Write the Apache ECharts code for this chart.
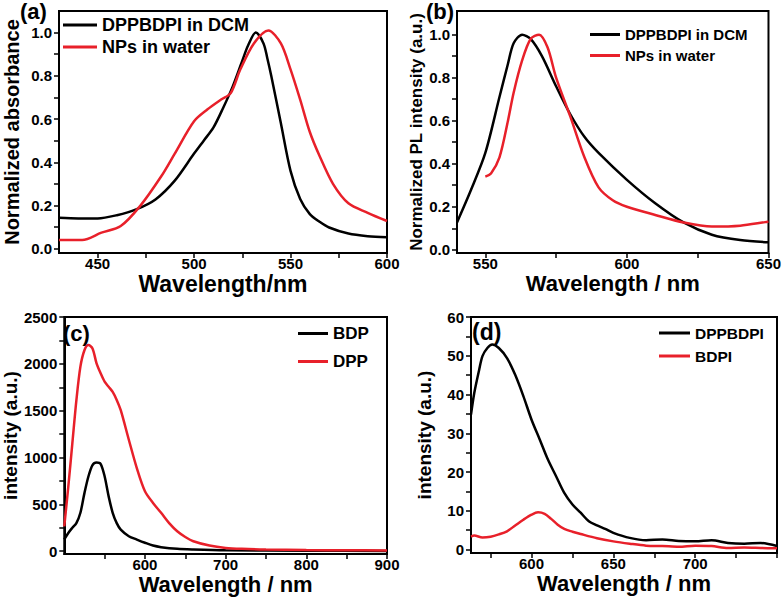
<!DOCTYPE html>
<html>
<head>
<meta charset="utf-8">
<script src="https://cdn.jsdelivr.net/npm/echarts@6/dist/echarts.min.js"></script>
<style>html,body{margin:0;padding:0;background:#fff}#c{width:784px;height:608px}</style>
</head>
<body>
<div id="c"></div>
<script>
// ---------- Panel (a): normalized absorbance ----------
const aDcmWl  = [430, 440, 450, 460, 470, 480, 490, 500, 505, 510, 515, 520, 525, 528, 532, 536, 538, 540, 545, 550, 555, 560, 565, 570, 580, 590, 600];
const aDcmAbs = [0.143, 0.14, 0.14, 0.155, 0.182, 0.228, 0.315, 0.44, 0.5, 0.56, 0.65, 0.75, 0.87, 0.94, 1.0, 0.95, 0.88, 0.8, 0.58, 0.36, 0.23, 0.16, 0.125, 0.098, 0.07, 0.058, 0.053];
const aNpWl   = [430, 442, 452, 462, 472, 483, 490, 500, 507, 514, 519, 524, 531, 538.5, 545, 550, 555, 560, 565, 572, 580, 590, 600];
const aNpAbs  = [0.04, 0.04, 0.074, 0.105, 0.197, 0.335, 0.44, 0.59, 0.645, 0.69, 0.72, 0.83, 0.95, 1.01, 0.95, 0.83, 0.69, 0.54, 0.43, 0.30, 0.21, 0.166, 0.128];

// ---------- Panel (b): normalized PL ----------
const bDcmWl = [540, 545, 550, 555, 558, 560, 563, 566, 570, 575, 580, 585, 590, 600, 610, 620, 630, 640, 650];
const bDcmPl = [0.127, 0.28, 0.45, 0.71, 0.865, 0.96, 1.0, 0.98, 0.9, 0.76, 0.63, 0.525, 0.45, 0.325, 0.216, 0.127, 0.07, 0.045, 0.035];
const bNpWl  = [550, 552, 555, 558, 560, 563, 566, 569, 572, 575, 580, 585, 590, 595, 600, 610, 620, 630, 640, 650];
const bNpPl  = [0.34, 0.355, 0.43, 0.6, 0.73, 0.88, 0.98, 1.0, 0.94, 0.8, 0.62, 0.43, 0.29, 0.23, 0.2, 0.162, 0.127, 0.108, 0.112, 0.131];

// ---------- Panel (c): BDP / DPP intensity ----------
const cBdpWl  = [500, 505, 510, 515, 520, 525, 530, 535, 540, 545, 550, 555, 560, 565, 570, 580, 590, 600, 610, 620, 640, 660, 700, 800, 900];
const cBdpInt = [125, 195, 250, 300, 410, 620, 800, 920, 947, 933, 800, 585, 410, 300, 230, 160, 124, 90, 60, 43, 25, 18, 10, 5, 3];
const cDppWl  = [500, 505, 510, 515, 520, 525, 530, 535, 540, 545, 550, 555, 560, 565, 570, 580, 590, 600, 610, 620, 630, 640, 650, 660, 680, 700, 720, 750, 800, 850, 900];
const cDppInt = [266, 690, 1150, 1610, 1970, 2145, 2200, 2165, 2005, 1900, 1810, 1755, 1700, 1615, 1505, 1190, 885, 640, 515, 410, 300, 213, 152, 106, 60, 35, 25, 18, 12, 10, 8];

// ---------- Panel (d): DPPBDPI / BDPI intensity ----------
const dDppWl  = [563, 565, 568, 570, 573, 576, 580, 585, 590, 595, 600, 605, 610, 615, 620, 625, 630, 635, 640, 645, 650, 660, 670, 680, 690, 700, 710, 720, 730, 740, 750];
const dDppInt = [34.8, 40.4, 46.4, 49.9, 52.0, 52.9, 52.0, 49.4, 45.1, 39.6, 33.5, 28.4, 23.2, 18.9, 14.6, 11.6, 9.5, 7.3, 6.2, 5.3, 4.3, 3.0, 2.4, 2.6, 2.2, 2.1, 2.4, 1.7, 1.5, 1.7, 0.9];
const dBdWl   = [563, 565, 570, 575, 580, 585, 590, 595, 600, 604, 608, 612, 616, 620, 625, 630, 640, 650, 660, 670, 680, 690, 700, 710, 720, 730, 740, 750];
const dBdInt  = [3.3, 3.6, 3.1, 3.3, 3.9, 4.7, 6.2, 7.7, 9.0, 9.6, 9.2, 7.9, 6.4, 5.3, 4.6, 4.0, 2.9, 2.1, 1.5, 1.0, 0.9, 0.7, 1.0, 0.9, 0.4, 0.5, 0.4, 0.3];

// ---------- tick / label values ----------
const aXLabels = [450, 500, 550, 600];
const aXTicks  = [450, 475, 500, 525, 550, 575, 600];
const abYLabels = [0, 0.2, 0.4, 0.6, 0.8, 1.0];
const abYTicks  = [0, 0.1, 0.2, 0.3, 0.4, 0.5, 0.6, 0.7, 0.8, 0.9, 1.0];
const bXLabels = [550, 600, 650];
const bXTicks  = [550, 575, 600, 625, 650];
const cXLabels = [600, 700, 800, 900];
const cXTicks  = [550, 600, 650, 700, 750, 800, 850, 900];
const cYLabels = [0, 500, 1000, 1500, 2000, 2500];
const cYTicks  = [0, 250, 500, 750, 1000, 1250, 1500, 1750, 2000, 2250, 2500];
const dXLabels = [600, 650, 700];
const dXTicks  = [575, 600, 625, 650, 675, 700, 725, 750];
const dYLabels = [0, 10, 20, 30, 40, 50, 60];
const dYTicks  = [0, 5, 10, 15, 20, 25, 30, 35, 40, 45, 50, 55, 60];

const BLACK = '#000000';
const RED = '#e8202a';
const FONT = '"Liberation Sans", Arial, sans-serif';

function zip(xs, ys) { return xs.map((x, i) => [x, ys[i]]); }

function xAxis(idx, min, max, labels, ticks, name, nameSize) {
  return {
    type: 'value', gridIndex: idx, min: min, max: max,
    splitLine: { show: false },
    axisLine: { onZero: false, lineStyle: { color: BLACK, width: 2 } },
    axisTick: { customValues: ticks, length: 5, inside: false, lineStyle: { color: BLACK, width: 1.5 } },
    axisLabel: { customValues: labels, margin: 3, color: BLACK, fontFamily: FONT, fontWeight: 'bold', fontSize: 15, lineHeight: 15 },
    name: name, nameLocation: 'middle', nameGap: 19,
    nameTextStyle: { color: BLACK, fontFamily: FONT, fontWeight: 'bold', fontSize: nameSize, lineHeight: nameSize }
  };
}
function yAxis(idx, min, max, labels, ticks, fmt, name, nameSize, nameGap) {
  return {
    type: 'value', gridIndex: idx, min: min, max: max,
    splitLine: { show: false },
    axisLine: { onZero: false, lineStyle: { color: BLACK, width: 2 } },
    axisTick: { customValues: ticks, length: 5, inside: false, lineStyle: { color: BLACK, width: 1.5 } },
    axisLabel: { customValues: labels, margin: 7, color: BLACK, fontFamily: FONT, fontWeight: 'bold', fontSize: 15, formatter: fmt },
    name: name, nameLocation: 'middle', nameGap: nameGap,
    nameTextStyle: { color: BLACK, fontFamily: FONT, fontWeight: 'bold', fontSize: nameSize }
  };
}
function line(name, idx, data, color) {
  return {
    type: 'line', name: name, xAxisIndex: idx, yAxisIndex: idx,
    data: data, showSymbol: false, smooth: 0.3,
    lineStyle: { color: color, width: 2.5 }, itemStyle: { color: color },
    animation: false, silent: true
  };
}
function legend(names, left, top, size, gap, w) {
  return {
    orient: 'vertical', left: left, top: top, data: names,
    icon: 'rect', itemWidth: w, itemHeight: 3, itemGap: gap, padding: 0,
    textStyle: { color: BLACK, fontFamily: FONT, fontWeight: 'bold', fontSize: size, lineHeight: size },
    selectedMode: false
  };
}
const gridBase = { show: true, borderColor: BLACK, borderWidth: 2, backgroundColor: 'transparent', containLabel: false };
const f1 = v => v.toFixed(1);
const f0 = v => String(Math.round(v));

const option = {
  backgroundColor: '#fff',
  animation: false,
  grid: [
    Object.assign({ left: 59, top: 11, width: 328, height: 242 }, gridBase),
    Object.assign({ left: 457, top: 11, width: 312, height: 242 }, gridBase),
    Object.assign({ left: 61, top: 317, width: 326, height: 237 }, gridBase),
    Object.assign({ left: 471, top: 317, width: 306, height: 236 }, gridBase)
  ],
  xAxis: [
    xAxis(0, 430, 600, aXLabels, aXTicks, 'Wavelength/nm', 23),
    xAxis(1, 540, 650, bXLabels, bXTicks, 'Wavelength / nm', 22),
    xAxis(2, 500, 900, cXLabels, cXTicks, 'Wavelength / nm', 22),
    xAxis(3, 563, 750, dXLabels, dXTicks, 'Wavelength / nm', 22)
  ],
  yAxis: [
    yAxis(0, -0.02, 1.1, abYLabels, abYTicks, f1, 'Normalized absorbance', 20, 37),
    yAxis(1, -0.015, 1.11, abYLabels, abYTicks, f1, 'Normalized PL intensity (a.u.)', 17, 29),
    yAxis(2, -30, 2500, cYLabels, cYTicks, f0, 'intensity (a.u.)', 19, 43),
    yAxis(3, -0.9, 60, dYLabels, dYTicks, f0, 'intensity (a.u.)', 19, 37)
  ],
  legend: [
    legend(['DPPBDPI in DCM', 'NPs in water'], 63, 16, 18, 4, 34),
    legend(['DPPBDPI in DCM', 'NPs in water'], 590, 27, 15, 6, 30),
    legend(['BDP', 'DPP'], 298, 325, 17, 11, 30),
    legend(['DPPBDPI', 'BDPI'], 659, 325, 15.5, 7, 31)
  ],
  graphic: [
    { type: 'text', left: 20, top: 0, style: { text: '(a)', fill: BLACK, font: 'bold 22px ' + FONT } },
    { type: 'text', left: 426, top: 0, style: { text: '(b)', fill: BLACK, font: 'bold 22px ' + FONT } },
    { type: 'text', left: 63, top: 322, style: { text: '(c)', fill: BLACK, font: 'bold 22px ' + FONT } },
    { type: 'text', left: 472, top: 320, style: { text: '(d)', fill: BLACK, font: 'bold 23px ' + FONT } }
  ],
  series: [
    line('DPPBDPI in DCM', 0, zip(aDcmWl, aDcmAbs), BLACK),
    line('NPs in water', 0, zip(aNpWl, aNpAbs), RED),
    line('DPPBDPI in DCM', 1, zip(bDcmWl, bDcmPl), BLACK),
    line('NPs in water', 1, zip(bNpWl, bNpPl), RED),
    line('BDP', 2, zip(cBdpWl, cBdpInt), BLACK),
    line('DPP', 2, zip(cDppWl, cDppInt), RED),
    line('DPPBDPI', 3, zip(dDppWl, dDppInt), BLACK),
    line('BDPI', 3, zip(dBdWl, dBdInt), RED)
  ]
};
const chart = echarts.init(document.getElementById('c'), null, { renderer: 'svg', width: 784, height: 608 });
chart.setOption(option);
</script>
</body>
</html>
